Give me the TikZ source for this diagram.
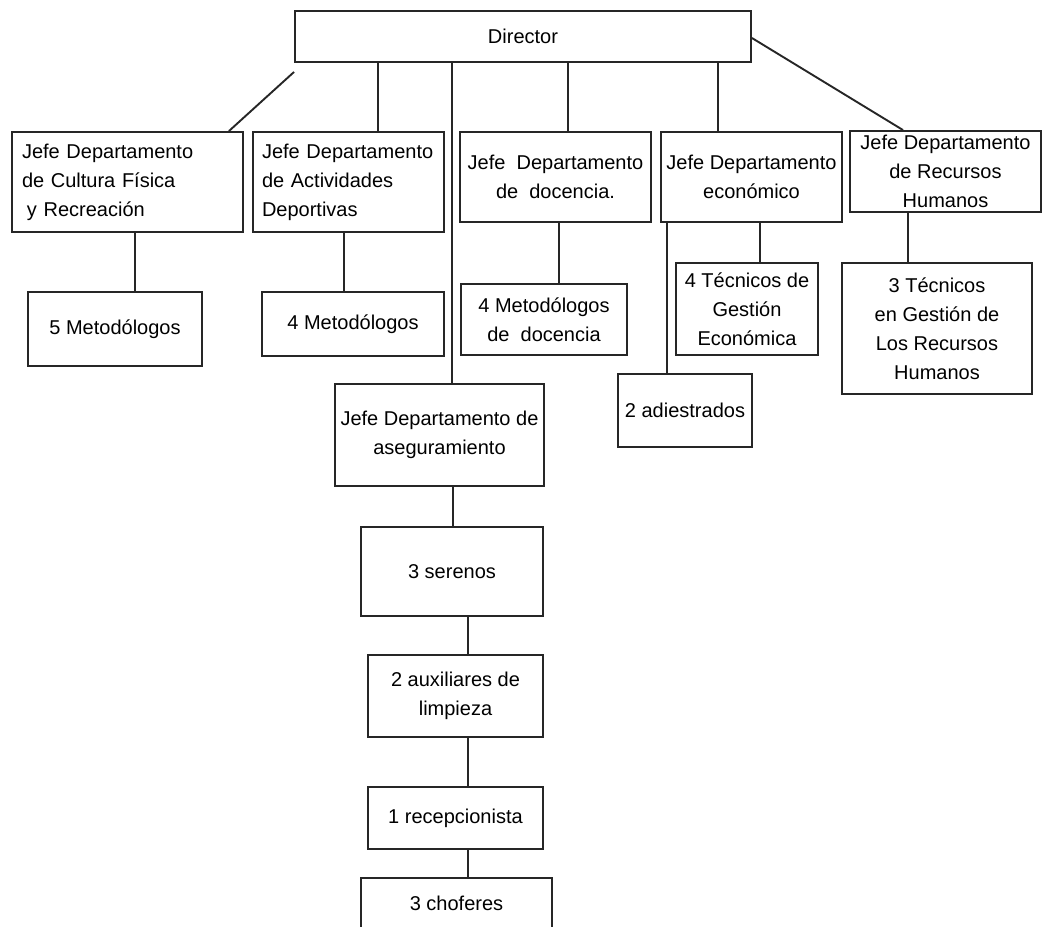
\documentclass[tikz,border=0pt]{standalone}
\usepackage{fontspec}
\setmainfont{Liberation Sans}

\begin{document}
\begin{tikzpicture}[x=1pt,y=-1pt,line width=1.9pt,draw=black!85,
    box/.style={draw,rectangle,inner sep=3pt,align=center,font=\fontsize{20}{29}\selectfont}]

                \clip (0,0) rectangle (1045,927);

                \node[box,minimum width=456pt,minimum height=51pt] (dir) at (523,36.5) {Director};

                \node[box,minimum height=100pt,text width=211pt,inner xsep=10pt,align=left] (cf) at (127.5,182) {Jefe Departamento\\de Cultura Física\\\hspace*{5pt}y Recreación};

                \node[box,minimum height=100pt,text width=173pt,inner xsep=9pt,align=left] (act) at (348.5,182) {Jefe Departamento\\de Actividades\\Deportivas};

                \node[box,minimum width=191pt,minimum height=90pt] (doc) at (555.5,177) {Jefe~~Departamento\\de~~docencia.};

                \node[box,minimum width=181pt,minimum height=90pt] (eco) at (751.5,177) {Jefe Departamento\\económico};

                \node[box,minimum width=191pt,minimum height=81pt,inner ysep=0pt] (rh) at (945.5,171.5) {Jefe Departamento\\de Recursos\\Humanos};

                \node[box,minimum width=174pt,minimum height=74pt] (m5) at (115,329) {5 Metodólogos};

                \node[box,minimum width=182pt,minimum height=64pt] (m4) at (353,324) {4 Metodólogos};

                \node[box,minimum width=166pt,minimum height=71pt] (mdoc) at (544,319.5) {4 Metodólogos\\de~~docencia};

                \node[box,minimum width=142pt,minimum height=92pt] (teg) at (747,309) {4 Técnicos de\\Gestión\\Económica};

                \node[box,minimum width=134pt,minimum height=73pt] (adi) at (685,410.5) {2 adiestrados};

                \node[box,minimum width=190pt,minimum height=131pt] (trh) at (937,328.5) {3 Técnicos\\en Gestión de\\Los Recursos\\Humanos};

                \node[box,minimum width=209pt,minimum height=102pt] (aseg) at (439.5,435) {Jefe Departamento de\\aseguramiento};

                \node[box,minimum width=182pt,minimum height=89pt] (ser) at (452,571.5) {3 serenos};

                \node[box,minimum width=175pt,minimum height=82pt] (aux) at (455.5,696) {2 auxiliares de\\limpieza};

                \node[box,minimum width=175pt,minimum height=62pt] (rec) at (455.5,818) {1 recepcionista};

                \node[box,minimum width=191pt,minimum height=60pt,text depth=10pt] (cho) at (456.5,908) {3 choferes};

                

                \foreach \x/\from/\to in {378/dir/act, 452/dir/aseg, 568/dir/doc, 718/dir/eco,
                    135/cf/m5, 344/act/m4, 559/doc/mdoc, 760/eco/teg, 667/eco/adi, 908/rh/trh,
                    453/aseg/ser, 468/ser/aux, 468/aux/rec, 468/rec/cho}
                    {
                    \coordinate (t) at (\x,0);
                    \draw (t |- \from.south) -- (t |- \to.north);
                    }

                

                \draw ([yshift=-9pt]dir.south west) -- ([xshift=-15pt]cf.north east);

                \draw ([yshift=-1.5pt]dir.east) -- ([xshift=-42.5pt]rh.north);

            \end{tikzpicture}
\end{document}
